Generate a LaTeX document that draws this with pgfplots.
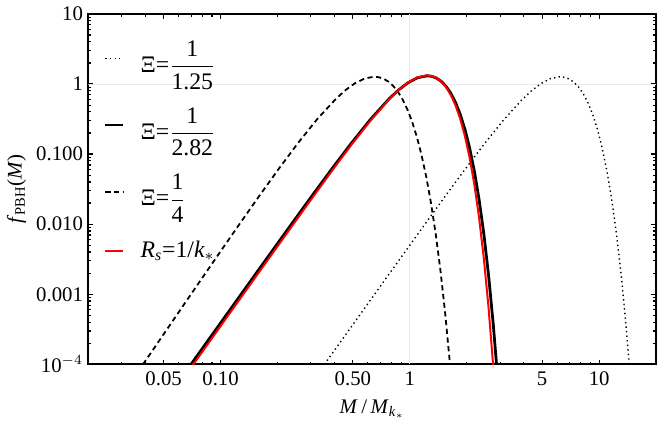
\documentclass[border=0pt]{standalone}
\usepackage{pgfplots}
\pgfplotsset{compat=1.18}
\usepackage{amsmath}
\usepackage{fontspec}
\setmainfont{Liberation Serif}

% one curve per Xi
\pgfplotstableread{
x y
0.3107 6.12e-5
0.3912 1.462e-4
0.4925 3.482e-4
0.6200 8.313e-4
0.7806 1.981e-3
0.9827 4.708e-3
1.2369 0.01116
1.5574 0.02629
1.9604 0.06106
2.4682 0.1386
3.1074 0.3005
3.9122 0.5982
4.3890 0.7995
4.9247 1.0135
5.5261 1.1934
6.2000 1.2700
6.5677 1.2471
6.9564 1.1770
7.3687 1.0574
7.8052 0.8990
8.2677 0.7174
8.7575 0.5306
9.2764 0.3583
9.8264 0.2182
10.4086 0.1174
11.0255 0.05480
11.6783 0.02160
12.3709 6.995e-3
13.1037 1.798e-3
13.8799 3.531e-4
14.5340 7.66e-5
}\xiA

\pgfplotstableread{
x y
0.0618 6.31e-5
0.0778 1.508e-4
0.0979 3.592e-4
0.1233 8.575e-4
0.1552 2.044e-3
0.1954 4.856e-3
0.2460 0.01151
0.3097 0.02712
0.3899 0.06298
0.4909 0.1429
0.6180 0.3099
0.7780 0.6170
0.8728 0.8246
0.9794 1.0454
1.0990 1.2310
1.2330 1.3100
1.3061 1.2864
1.3834 1.2141
1.4654 1.0907
1.5522 0.9273
1.6442 0.7400
1.7416 0.5473
1.8448 0.3696
1.9542 0.2251
2.0700 0.1211
2.1926 0.05653
2.3225 0.02228
2.4602 7.215e-3
2.6059 1.855e-3
2.7603 3.642e-4
2.8904 7.90e-5
}\xiB

\pgfplotstableread{
x y
0.03248 4.90e-5
0.04089 1.215e-4
0.05147 3.015e-4
0.0648 7.478e-4
0.08158 1.848e-3
0.1027 4.552e-3
0.1293 0.01114
0.1628 0.02696
0.2049 0.06394
0.2580 0.1468
0.3248 0.3183
0.4089 0.6234
0.4587 0.8247
0.5147 1.0314
0.5776 1.2002
0.6480 1.2700
0.6864 1.2497
0.7271 1.1867
0.7702 1.0820
0.8158 0.9415
0.8641 0.7770
0.9153 0.6031
0.9695 0.4365
1.0270 0.2916
1.0878 0.1777
1.1523 0.09746
1.2206 0.04741
1.2930 0.02008
1.3695 7.258e-3
1.4507 2.189e-3
1.5367 5.368e-4
1.6277 1.038e-4
1.7044 2.295e-5
}\xiC

\pgfplotstableread{
x y
0.06165 5.61e-5
0.07761 1.343e-4
0.09770 3.220e-4
0.1230 7.706e-4
0.1549 1.845e-3
0.1950 4.404e-3
0.2454 0.01049
0.3090 0.02488
0.3889 0.05839
0.4897 0.1342
0.6165 0.2957
0.7761 0.6024
0.8707 0.8164
0.9770 1.0467
1.0963 1.2441
1.2300 1.3300
1.3029 1.3042
1.3801 1.2241
1.4619 1.0891
1.5484 0.9117
1.6402 0.7093
1.7374 0.5057
1.8403 0.3257
1.9494 0.1853
2.0649 0.09138
2.1873 0.03792
2.3168 0.01285
2.4542 3.418e-3
2.5996 6.84e-4
2.7536 9.75e-5
}\rs

\begin{document}
\fontsize{10.5}{12.5}\selectfont
\begin{tikzpicture}
\begin{loglogaxis}[
  scale only axis,
  width=286bp, height=176.5bp,
  xmin=0.02, xmax=20, ymin=1e-4, ymax=10,
  xtick={0.05,0.1,0.5,1,5,10},
  xticklabels={0.05,0.10,0.50,1,5,10},
  minor xtick={0.02,0.03,0.04,0.06,0.07,0.08,0.09,0.2,0.3,0.4,0.6,0.7,0.8,0.9,2,3,4,6,7,8,9,20},
  ytick={1e-4,1e-3,1e-2,1e-1,1,10},
  yticklabels={10$^{-4}$,0.001,0.010,0.100,1,10},
  minor ytick={2e-4,3e-4,4e-4,5e-4,6e-4,7e-4,8e-4,9e-4,
    2e-3,3e-3,4e-3,5e-3,6e-3,7e-3,8e-3,9e-3,
    0.02,0.03,0.04,0.05,0.06,0.07,0.08,0.09,
    0.2,0.3,0.4,0.5,0.6,0.7,0.8,0.9,2,3,4,5,6,7,8,9},
  tick align=inside,
  major tick length=2.4bp, minor tick length=1.4bp,
  every tick/.style={black, line width=0.6bp},
  axis line style={line width=0.9bp},
  /pgf/number format/assume math mode=true,
  ticklabel style={font=\fontsize{10.5}{12.5}\selectfont},
  yticklabel style={xshift=1bp},
  label style={font=\fontsize{10.5}{12.5}\selectfont},
  xlabel={\textit{M}\,/\,\textit{M}\textsubscript{\textit{k}$_*$}},
  ylabel={\textit{f}\textsubscript{PBH}(\textit{M})},
  ylabel style={yshift=-2bp},
  legend style={at={(0.027,0.935)}, anchor=north west, draw=none, fill=none,
    inner sep=0pt, row sep=12bp, column sep=6bp, font=\fontsize{12}{14.5}\selectfont},
  legend cell align=left,
  legend image code/.code={\draw[#1] (0bp,0bp) -- (9bp,0bp);},
]
\draw[gray!18, line width=0.5bp] (axis cs:1,1e-4) -- (axis cs:1,10);
\draw[gray!18, line width=0.5bp] (axis cs:0.02,1) -- (axis cs:20,1);

\addplot[black, line width=0.7bp, dash pattern=on 0.7bp off 1.6bp] table {\xiA};
\addlegendentry{Ξ=$\dfrac{\text{1}}{\text{1.25}}$}
\addplot[black, line width=1.4bp] table {\xiB};
\addlegendentry{Ξ=$\dfrac{\text{1}}{\text{2.82}}$}
\addplot[black, line width=0.9bp, dash pattern=on 2.6bp off 1.8bp] table {\xiC};
\addlegendentry{Ξ=$\dfrac{\text{1}}{\text{4}}$}
\addplot[color=red, line width=1bp] table {\rs};
\addlegendentry{\textit{R}\textsubscript{\textit{s}}=1/\textit{k}$_*$}
\end{loglogaxis}
\end{tikzpicture}
\end{document}
